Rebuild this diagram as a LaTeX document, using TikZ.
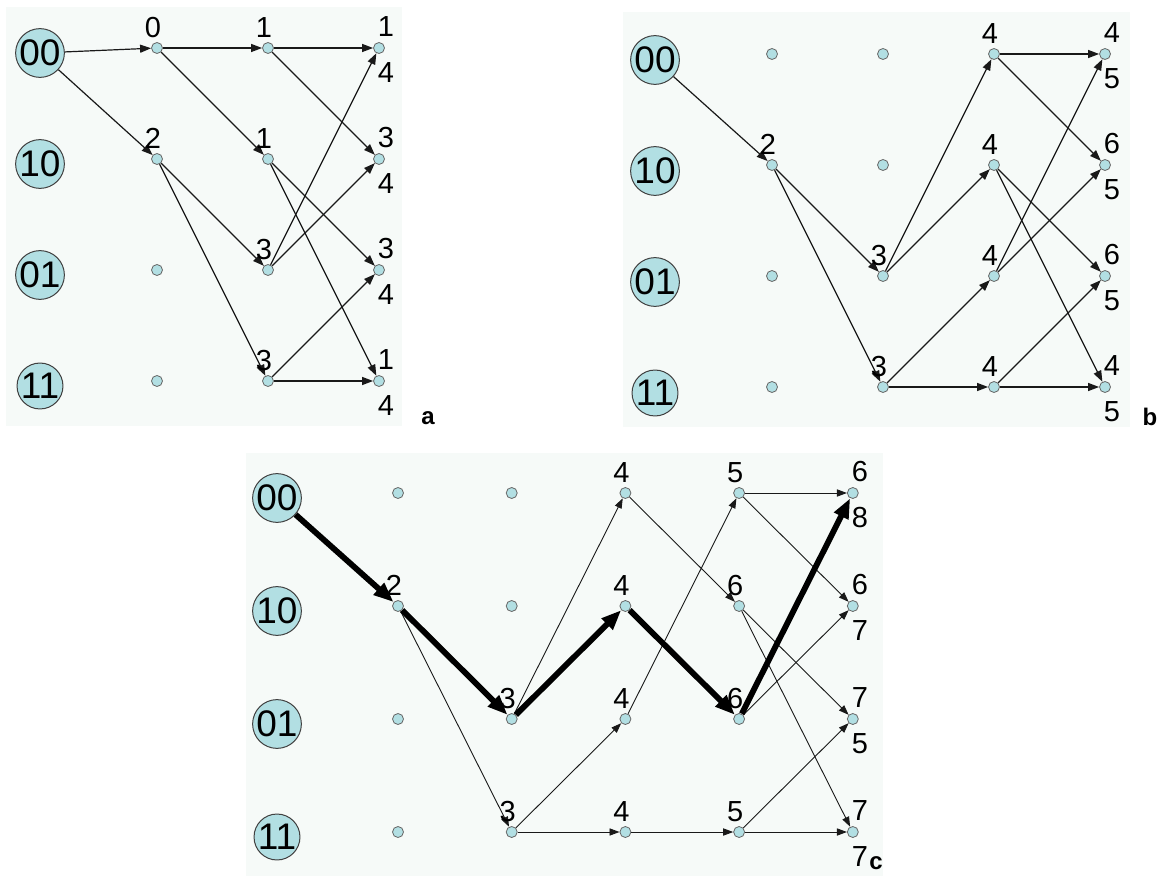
\documentclass[tikz,border=0pt]{standalone}
\usepackage{fontspec}
\setmainfont{Liberation Sans}
\usepackage{xcolor}
\usepackage{tikz}
\usetikzlibrary{positioning, arrows.meta}

\definecolor{panelbg}{RGB}{246,250,248}
\definecolor{nodefill}{RGB}{178,223,227}

\begin{document}
\begin{tikzpicture}[x=0.5pt, y=-0.5pt,
    state/.style={circle, draw=black!75, line width=0.5pt, fill=nodefill, minimum size=22pt, inner sep=0pt, font=\fontsize{18.5}{18.5}\selectfont},
    dot/.style={circle, draw=black!60, line width=0.4pt, fill=nodefill, minimum size=5.5pt, inner sep=0pt},
    edge/.style={-{Triangle[length=5.5pt, width=4pt]}, black!90, line width=0.6pt},
    thinedge/.style={-{Triangle[length=5pt, width=3.6pt]}, black!90, line width=0.45pt},
    best/.style={-{Triangle[length=10pt, width=7.5pt]}, black, line width=2.9pt},
    lbl/.style={inner sep=0pt, font=\fontsize{14.5}{15}\selectfont},
    tag/.style={inner sep=0pt, font=\bfseries\fontsize{12}{12}\selectfont}]
  \useasboundingbox (0,0) rectangle (1165,876);

  % Panel a
  \fill[panelbg] (6,7) rectangle (402,426);
  \foreach \r/\s in {0/00,1/10,2/01,3/11}
    \node[state] (a0\r) at (40, 53+111*\r) {\s};
  \foreach \c in {1,2,3}
    \foreach \r in {0,...,3}
      \node[dot] (a\c\r) at (46+111*\c, 48+111*\r) {};

  \draw[edge] (a00) -- (a10);
  \draw[edge] (a00) -- (a11);
  \draw[edge] (a10) -- (a20);
  \draw[edge] (a10) -- (a21);
  \draw[edge] (a11) -- (a22);
  \draw[edge] (a11) -- (a23);
  \foreach \f/\t in {0/0,0/1,1/2,1/3,2/0,2/1,3/2,3/3}
    \draw[edge] (a2\f) -- (a3\t);

  \foreach \n/\v in {10/0,11/2,20/1,21/1,22/3,23/3}
    \node[lbl, above=2pt of a\n, xshift=-2pt] (la\n) {\v};
  \foreach \r/\u/\d in {0/1/4,1/3/4,2/3/4,3/1/4} {
    \node[lbl, above=2.5pt of a3\r, xshift=3.5pt] (ua\r) {\u};
    \node[lbl, below=4pt of a3\r, xshift=3.5pt] (da\r) {\d};
  }
  \node[tag] (taga) at (428,418) {a};

  % Panel b
  \fill[panelbg] (623,12) rectangle (1130,427);
  \foreach \r/\s in {0/00,1/10,2/01,3/11}
    \node[state] (b0\r) at (655, 60+111*\r) {\s};
  \foreach \c in {1,...,4}
    \foreach \r in {0,...,3}
      \node[dot] (b\c\r) at (661+111*\c, 54+111*\r) {};

  \draw[edge] (b00) -- (b11);
  \draw[edge] (b11) -- (b22);
  \draw[edge] (b11) -- (b23);
  \draw[edge] (b22) -- (b30);
  \draw[edge] (b22) -- (b31);
  \draw[edge] (b23) -- (b32);
  \draw[edge] (b23) -- (b33);
  \foreach \f/\t in {0/0,0/1,1/2,1/3,2/0,2/1,3/2,3/3}
    \draw[edge] (b3\f) -- (b4\t);

  \foreach \n/\v in {11/2,22/3,23/3,30/4,31/4,32/4,33/4}
    \node[lbl, above=2pt of b\n, xshift=-2pt] (lb\n) {\v};
  \foreach \r/\u/\d in {0/4/5,1/6/5,2/6/5,3/4/5} {
    \node[lbl, above=2.5pt of b4\r, xshift=3.5pt] (ub\r) {\u};
    \node[lbl, below=4pt of b4\r, xshift=3.5pt] (db\r) {\d};
  }
  \node[tag] (tagb) at (1150,417) {b};

  % Panel c
  \fill[panelbg] (246,453) rectangle (883,876);
  \foreach \r/\s in {0/00,1/10,2/01,3/11}
    \node[state] (c0\r) at (277, 498+113*\r) {\s};
  \foreach \c in {1,...,5}
    \foreach \r in {0,...,3}
      \node[dot] (c\c\r) at (284.3+113.7*\c, 493+113*\r) {};

  \foreach \f/\t in {11/23,22/30,23/32,23/33,30/41,32/40,33/43,40/50,40/51,41/52,41/53,42/51,43/52,43/53}
    \draw[thinedge] (c\f) -- (c\t);
  % survivor path
  \draw[best] (c00) -- (c11);
  \draw[best] (c11) -- (c22);
  \draw[best] (c22) -- (c31);
  \draw[best] (c31) -- (c42);
  \draw[best] (c42) -- (c50);

  \foreach \n/\v in {11/2,22/3,23/3,30/4,31/4,32/4,33/4,40/5,41/6,42/6,43/5}
    \node[lbl, above=2pt of c\n, xshift=-2pt] (lc\n) {\v};
  \foreach \r/\u/\d in {0/6/8,1/6/7,2/7/5,3/7/7} {
    \node[lbl, above=2.5pt of c5\r, xshift=3.5pt] (uc\r) {\u};
    \node[lbl, below=4pt of c5\r, xshift=3.5pt] (dc\r) {\d};
  }
  \node[tag] (tagc) at (876,863) {c};
\end{tikzpicture}
\end{document}
